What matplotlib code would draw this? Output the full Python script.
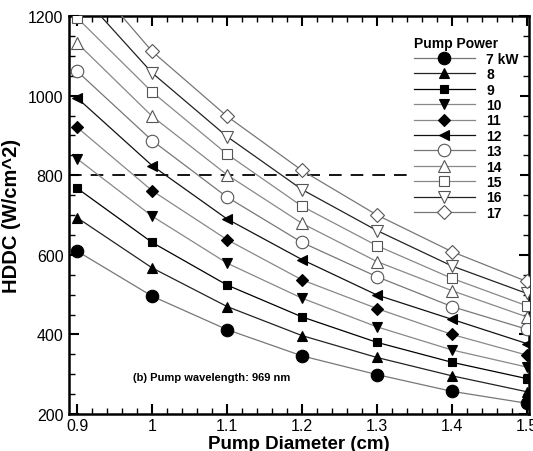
import matplotlib
matplotlib.use("Agg")
import matplotlib.pyplot as plt
from matplotlib.ticker import MultipleLocator, FuncFormatter

plt.rcParams['font.family'] = ['Liberation Sans', 'DejaVu Sans']

diameter = [0.9, 1.0, 1.1, 1.2, 1.3, 1.4, 1.5]
powers = ["7 kW", "8", "9", "10", "11", "12", "13", "14", "15", "16", "17"]

hddc_7 = [609, 496, 412, 346, 299, 257, 227]
hddc_8 = [693, 567, 470, 397, 342, 296, 256]
hddc_9 = [767, 631, 524, 444, 380, 330, 289]
hddc_10 = [841, 697, 579, 491, 419, 361, 318]
hddc_11 = [920, 761, 638, 537, 465, 400, 348]
hddc_12 = [994, 824, 690, 588, 499, 438, 377]
hddc_13 = [1061, 887, 745, 631, 545, 470, 413]
hddc_14 = [1132, 948, 801, 679, 583, 510, 444]
hddc_15 = [1195, 1009, 853, 722, 623, 541, 472]
hddc_16 = [1265, 1057, 897, 764, 661, 572, 503]
hddc_17 = [1330, 1111, 948, 812, 700, 608, 533]

limit = 800

series = [hddc_7, hddc_8, hddc_9, hddc_10, hddc_11, hddc_12,
          hddc_13, hddc_14, hddc_15, hddc_16, hddc_17]
markers = ["o", "^", "s", "v", "D", "<", "o", "^", "s", "v", "D"]
msizes = [9, 7, 6, 7, 6, 7, 9, 8, 7, 8, 7]
line_colors = ["#777777", "#222222", "#000000", "#888888", "#888888", "#111111",
               "#777777", "#888888", "#888888", "#222222", "#777777"]

fig = plt.figure(figsize=(5.33, 4.52), dpi=100)
ax = fig.add_axes([69 / 533, 1 - 415 / 452, 460 / 533, 398 / 452])

for i, (vals, lab) in enumerate(zip(series, powers)):
    filled = i < 6
    ax.plot(diameter, vals, color=line_colors[i], lw=0.9,
            marker=markers[i], ms=msizes[i],
            mfc="black" if filled else "white",
            mec="black" if filled else "#555555",
            mew=0.8, label=lab, zorder=3)

ax.axhline(limit, color="black", lw=1.3, dashes=(7, 5), zorder=2)

ax.set_xlim(0.889, 1.503)
ax.set_ylim(200, 1200)
ax.xaxis.set_major_locator(MultipleLocator(0.1))
ax.xaxis.set_minor_locator(MultipleLocator(0.02))
ax.yaxis.set_major_locator(MultipleLocator(200))
ax.yaxis.set_minor_locator(MultipleLocator(50))
ax.xaxis.set_major_formatter(FuncFormatter(lambda v, p: f"{v:g}"))
ax.tick_params(which="both", direction="in", top=True, right=True, labelsize=11.5)
ax.tick_params(which="major", length=7, width=1.5)
ax.tick_params(which="minor", length=4, width=1)
ax.tick_params(axis="y", pad=4)
ax.tick_params(axis="x", pad=3)
for s in ax.spines.values():
    s.set_linewidth(1.8)

ax.set_xlabel("Pump Diameter (cm)", fontsize=13.5, fontweight="bold", labelpad=1)
ax.set_ylabel("HDDC (W/cm^2)", fontsize=14.5, fontweight="bold", labelpad=5)

ax.text(0.975, 293, "(b) Pump wavelength: 969 nm", fontsize=8, fontweight="bold",
        ha="left", va="center")

leg = ax.legend(loc="upper left", bbox_to_anchor=(0.746, 0.952), title="Pump Power",
                prop={"weight": "bold", "size": 10}, title_fontproperties={"weight": "bold", "size": 10},
                handlelength=4.4, handletextpad=0.85, labelspacing=0.1, borderpad=0.1,
                borderaxespad=0, frameon=True, fancybox=False, alignment="left")
leg.get_frame().set_facecolor("white")
leg.get_frame().set_edgecolor("none")
leg.get_frame().set_alpha(1)
leg.set_zorder(5)

fig.savefig("out.png", dpi=100)
